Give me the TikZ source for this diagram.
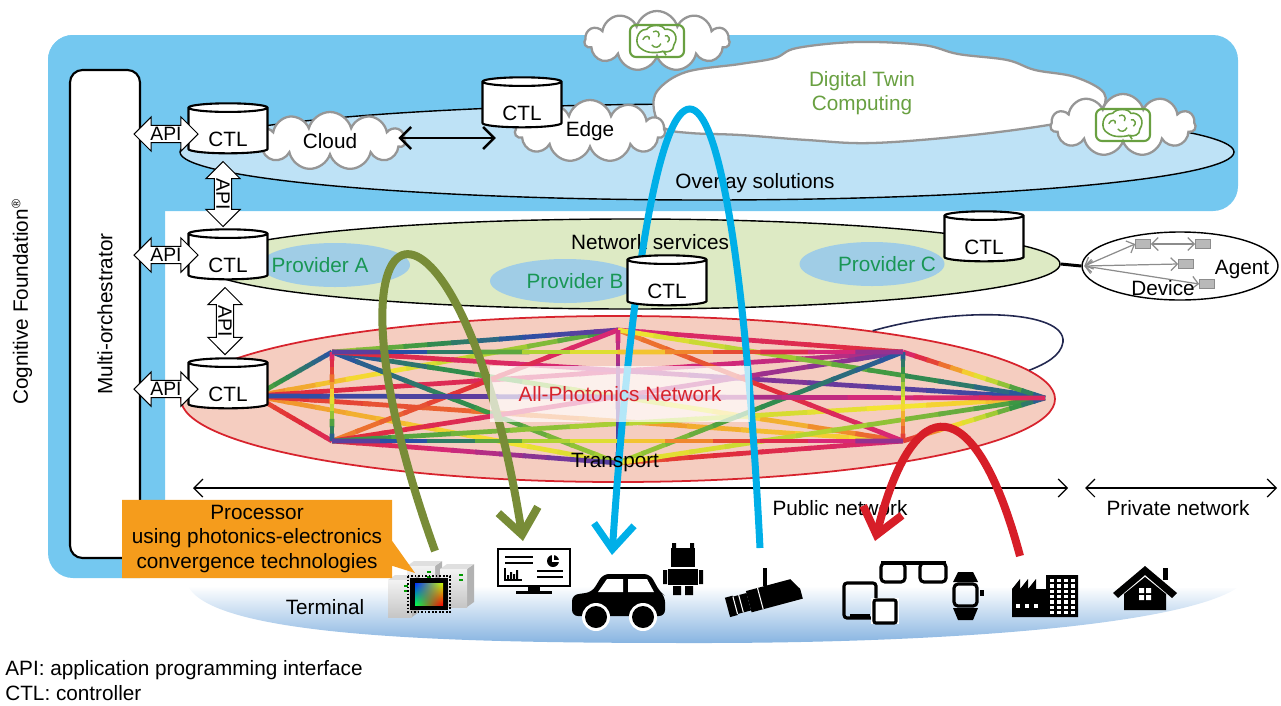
\documentclass[tikz,border=0pt]{standalone}
\usepackage{fontspec}
\setmainfont{Liberation Sans}
\usetikzlibrary{positioning, arrows.meta, calc, shapes.geometric, shapes.symbols, shapes.arrows, shapes.callouts, shadings}

\definecolor{cfblue}{RGB}{116,200,240}
\definecolor{overlayblue}{RGB}{190,226,246}
\definecolor{nsgreen}{RGB}{221,234,196}
\definecolor{provblue}{RGB}{160,205,230}
\definecolor{provtext}{RGB}{25,150,85}
\definecolor{twingreen}{RGB}{105,160,65}
\definecolor{apnfill}{RGB}{245,205,192}
\definecolor{apnred}{RGB}{215,35,45}
\definecolor{cloudgray}{RGB}{150,150,150}
\definecolor{olivearc}{RGB}{120,140,55}
\definecolor{cyanarc}{RGB}{0,175,232}
\definecolor{redarc}{RGB}{215,30,40}
\definecolor{calloutorange}{RGB}{245,156,28}
\definecolor{termblue}{RGB}{135,180,225}
\definecolor{loopnavy}{RGB}{35,40,80}
% palette for the optical links
\definecolor{pal0}{RGB}{40,80,165}
\definecolor{pal1}{RGB}{50,145,70}
\definecolor{pal2}{RGB}{175,210,50}
\definecolor{pal3}{RGB}{245,228,50}
\definecolor{pal4}{RGB}{240,135,45}
\definecolor{pal5}{RGB}{225,45,55}
\definecolor{pal6}{RGB}{215,40,120}
\definecolor{pal7}{RGB}{115,55,155}

% link from #1 to #2, colour running through the palette from #3 to #4
\newcommand\meshlink[4]{%
  \foreach \k in {0,...,11}{%
    \pgfmathsetmacro\ta{\k/12}%
    \pgfmathsetmacro\tb{min((\k+1.15)/12,1)}%
    \pgfmathsetmacro\pp{mod(#3+(#4-#3)*(\k+0.5)/12+16,8)}%
    \pgfmathtruncatemacro\ci{floor(\pp)}%
    \pgfmathtruncatemacro\cj{mod(\ci+1,8)}%
    \pgfmathtruncatemacro\cw{100*(1-\pp+\ci)}%
    \colorlet{linkcol}{pal\ci!\cw!pal\cj}%
    \draw[linkcol, line width=0.95mm] ($(#1)!\ta!(#2)$) -- ($(#1)!\tb!(#2)$);
  }}

% small brain sign inside a cloud
\newcommand\brainicon[1]{%
  \begin{scope}[shift={#1}]
    \draw[twingreen, line width=1.2pt, rounded corners=1.2mm] (-27,-16) rectangle (27,16);
    \begin{scope}[scale=1.3]
    \draw[twingreen, line width=0.9pt] (-12,6) .. controls (-18,3) and (-16,-9) .. (-8,-9)
      .. controls (-5,-13) and (4,-13) .. (6,-9) .. controls (13,-10) and (17,-3) .. (13,3)
      .. controls (13,8) and (8,9) .. (5,8) -- (7,11) (5,8) .. controls (0,9) and (-7,10) .. (-12,6);
    \draw[twingreen, line width=0.8pt] (-11,-1) .. controls (-9,-5) and (-5,-4) .. (-6,-1)
      (-3,-7) .. controls (0,-9) and (3,-6) .. (1,-3) (-4,3) .. controls (-2,6) and (2,5) .. (3,2)
      (6,-4) .. controls (9,-5) and (11,-1) .. (8,1);
    \end{scope}
  \end{scope}}

% server tower: corner x, y, width, height
\newcommand\servertower[4]{%
  \fill[gray!60] (#1+#3,#2) -- ++(7,-5) -- ++(0,#4) -- ++(-7,5) -- cycle;
  \fill[gray!25] (#1,#2) -- ++(7,-5) -- ++(#3,0) -- ++(-7,5) -- cycle;
  \shade[top color=gray!10, bottom color=gray!45] (#1,#2) rectangle ++(#3,#4);
  \fill[green!60!black] (#1+#3-8,#2+5) rectangle ++(4,2);
  \fill[green!60!black] (#1+#3-8,#2+10) rectangle ++(4,2);}

\begin{document}
\begin{tikzpicture}[x=0.2mm, y=-0.2mm, font=\fontsize{11.8}{13.7}\selectfont,
  ctl/.style={cylinder, shape border rotate=90, draw, line width=1.2pt, fill=white,
    aspect=0.22, minimum width=15.8mm, minimum height=10mm, inner sep=0pt, text height=6.3mm},
  apiarrow/.style={double arrow, draw, line width=0.6pt, fill=white,
    double arrow head extend=1.7mm, inner xsep=1pt, inner ysep=0.8pt,
    minimum height=#1, font=\fontsize{11}{12}\selectfont},
  puff/.style={cloud, cloud puffs=#1, cloud ignores aspect, draw=cloudgray,
    line width=1.3pt, fill=white},
  region/.style={ellipse, draw, inner sep=0pt},
  provider/.style={ellipse, fill=provblue, inner sep=0pt, minimum width=30mm, minimum height=8.8mm},
  devbox/.style={draw=gray!90, fill=gray!55, minimum width=3mm, minimum height=1.8mm, inner sep=0pt},
  devlink/.style={gray!90, line width=0.7pt,
    {Straight Barb[length=1.3mm,width=2.6mm]}-{Straight Barb[length=1.3mm,width=2.6mm]}},
  span/.style={line width=0.7pt,
    {Straight Barb[length=1.8mm,width=3.6mm]}-{Straight Barb[length=1.8mm,width=3.6mm]}},
  arc/.style={#1, line cap=butt, -{Straight Barb[length=5mm,width=8mm]}}]

\useasboundingbox (0,0) rectangle (1281,705);

% Cognitive Foundation frame
\fill[cfblue, rounded corners=5mm] (48,35) rectangle (1238,211);
\fill[cfblue, rounded corners=5mm] (48,35) rectangle (165,578);
\node[rotate=90] (cflabel) at (22,302) {Cognitive Foundation\textsuperscript{\scriptsize ®}};

\node[draw, line width=1.2pt, fill=white, rounded corners=2.5mm,
  minimum width=14mm, minimum height=97.6mm] (orch) at (105,314) {};
\node[rotate=90] (orchlabel) at (orch) {Multi-orchestrator};

% overlay layer
\node[region, fill=overlayblue, line width=0.8pt, minimum width=210.8mm, minimum height=19.2mm] (overlay) at (707,152) {};
\node (overlaylabel) at (755,183) {Overlay solutions};

% digital twin cloud
\draw[cloudgray, fill=white, line width=1.3pt] plot[smooth cycle, tension=0.6] coordinates {
  (658,90) (686,72) (740,64) (775,58) (797,48) (857,42) (923,45) (958,54) (1007,60)
  (1035,70) (1075,77) (1104,93) (1098,112) (1060,123) (973,135) (873,143) (807,140)
  (740,135) (690,133) (664,128) (654,110)};
\node[align=center, text=twingreen] (twinlabel) at (862,93) {Digital Twin\\Computing};
\node[puff=11, minimum width=29mm, minimum height=12mm] (braintop) at (657,41) {};
\node[puff=11, minimum width=29mm, minimum height=12.4mm] (brainright) at (1123,125) {};
\brainicon{(braintop)}
\brainicon{(brainright)}

\node[puff=11, minimum width=30mm, minimum height=11.6mm] (cloud) at (330,141) {Cloud};
\node[puff=11, minimum width=30mm, minimum height=12.4mm] (edge) at (590,131) {Edge};
\draw[line width=1.4pt, {Straight Barb[length=2.2mm,width=4.4mm]}-{Straight Barb[length=2.2mm,width=4.4mm]}]
  ($(cloud.east)+(-8,-3)$) -- ($(cloud.east -| edge.west)+(-18,-3)$);

% network services layer
\node[region, fill=nsgreen, line width=0.8pt, minimum width=172mm, minimum height=18mm] (netsvc) at (630,264) {};
\node[provider] (provA) at (335,265) {};
\node[provider] (provB) at (565,281) {};
\node[provider, minimum width=29mm] (provC) at (872,264) {};
\node[text=provtext] (provAlabel) at (320,265) {Provider A};
\node[text=provtext] (provBlabel) at (575,281) {Provider B};
\node[text=provtext] (provClabel) at (887,264) {Provider C};
\node (netsvclabel) at (650,242) {Network services};

\node[region, line width=0.8pt, minimum width=39.2mm, minimum height=13.6mm] (devzone) at (1180,266) {};
\draw[line width=0.6mm] (netsvc.east) -- (devzone.west);
\node[devbox] (dev1) at (1143,244) {};
\node[devbox] (dev2) at (1203,244) {};
\node[devbox] (dev3) at (1186,264) {};
\node[devbox] (dev4) at (1207,284) {};
\draw[devlink] ([xshift=0.6mm]devzone.west) -- (dev1.west);
\draw[devlink] ([xshift=0.6mm]devzone.west) -- (dev3.west);
\draw[devlink] ([xshift=0.6mm]devzone.west) -- (dev4.west);
\draw[devlink] (dev1.east) -- (dev2.west);
\node (agentlabel) at (1242,270) {Agent};
\node (devicelabel) at (1163,288) {Device};

% all-photonics transport
\node[region, draw=apnred, fill=apnfill, line width=1pt, minimum width=174.8mm, minimum height=33.2mm] (apn) at (618,399) {};
\draw[loopnavy, line width=0.9pt] (apn.15) .. controls (960,306) and (1066,310) .. (1063,342)
  .. controls (1061,356) and (1045,364) .. (apn.4);

\coordinate (m0) at (255,396);
\coordinate (m1) at (332,352);
\coordinate (m2) at (332,441);
\coordinate (m3) at (618,330);
\coordinate (m4) at (618,463);
\coordinate (m5) at (903,352);
\coordinate (m6) at (903,441);
\coordinate (m7) at (1045,398);
\foreach \a/\b/\p/\q in {m0/m1/1.5/0, m0/m3/4/1, m0/m5/5/6.5, m0/m4/4/2.5, m0/m6/5/3, m0/m2/4.5/5.5,
    m1/m3/2/-1, m1/m4/0/2, m1/m6/0/4.5, m1/m7/5/8, m2/m3/4/6, m2/m4/5/7.5, m2/m5/5/7, m2/m7/1/3.5,
    m3/m5/6/5, m3/m6/4/6, m3/m7/3/0, m4/m5/2/0, m4/m6/4.5/6, m4/m7/3/1, m5/m7/6/0, m6/m7/5/0,
    m0/m7/8/5.5, m1/m2/6/0, m3/m4/6/8, m5/m6/0/5, m1/m5/7/15, m2/m6/7/15}
  {\meshlink{\a}{\b}{\p}{\q}}

% terminals
\shade[top color=white, middle color=termblue!45, bottom color=termblue]
  (188,586) .. controls (215,640) and (480,643) .. (700,643)
  .. controls (950,643) and (1180,625) .. (1237,588) -- cycle;
\node (terminallabel) at (325,607) {Terminal};

\coordinate (pubL) at (193,488);
\coordinate (pubR) at (1068,488);
\coordinate (privL) at (1085,488);
\coordinate (privR) at (1277,488);
\draw[span] (pubL) -- (pubR);
\draw[span] (privL) -- (privR);
\node (publabel) at (840,508) {Public network};
\node (privlabel) at (1178,508) {Private network};

% servers with the chip
\servertower{407}{566}{28}{40}
\servertower{440}{569}{27}{38}
\servertower{388}{580}{24}{37}
\fill[black] (410,578) rectangle (448,610);
\draw[black, line width=1.5pt, dash pattern=on 1pt off 1pt] (408,576) rectangle (450,612);
\shade[upper left=blue!80!cyan, upper right=yellow!80!green, lower left=green!70!cyan, lower right=red] (415,583) rectangle (443,605);

% monitor
\draw[line width=1.5pt] (498,549) rectangle (570,586);
\fill (528,586) rectangle (540,591);
\fill (516,591) rectangle (552,594);
\draw[line width=1pt] (505,557) -- (533,557) (505,563) -- (533,563) (537,571) -- (563,571) (537,577) -- (563,577);
\draw[line width=0.6pt] (505,568) -- (505,580) -- (522,580);
\fill (507,575) rectangle (509,579) (510,572) rectangle (512,579) (513,574) rectangle (515,579) (516,570) rectangle (518,579);
\fill (553,561) circle (6);
\draw[white, line width=0.7pt] (553,555) -- (553,561) -- (559,561);

% car
\fill[rounded corners=1.2mm] (572,616) -- (572,595) -- (592,592) -- (603,574) -- (650,574) -- (660,592) -- (665,596) -- (665,616) -- cycle;
\fill[white] (607,579) -- (623,579) -- (623,592) -- (598,592) -- cycle;
\fill[white] (628,579) -- (647,579) -- (654,592) -- (628,592) -- cycle;
\fill[white] (596,617) circle (14) (643,617) circle (14);
\fill (596,617) circle (11) (643,617) circle (11);

% robot
\fill (671,548) rectangle (695,567);
\fill (672,543) rectangle (676,549) (690,543) rectangle (694,549);
\fill (668,569) rectangle (698,585);
\fill (663,570) rectangle (667,584) (699,570) rectangle (703,584);
\fill (673,586) rectangle (681,595) (685,586) rectangle (693,595);

% camera
\begin{scope}[shift={(770,596)}, rotate=15]
  \fill (-22,-11) -- (24,-11) -- (31,1) -- (31,11) -- (-22,11) -- cycle;
  \fill (-36,-9) rectangle (-22,9);
  \fill (-44,-10) rectangle (-36,10);
  \draw[white, line width=0.6pt] (-36,-9) -- (-36,9) (-30,-9) -- (-30,9) (-10,-11) -- (-10,11);
\end{scope}
\draw[line width=1.8pt] (765,568) -- (765,586);

% tablet, phone, glasses, watch
\draw[line width=1.8pt, rounded corners=0.6mm] (844,583) rectangle (876,618);
\fill (850,614) rectangle (870,618);
\fill[white] (871,598) rectangle (899,624);
\draw[line width=1.8pt, rounded corners=0.4mm] (874,600) rectangle (896,623);
\draw[line width=1.8pt, rounded corners=0.8mm] (881,563) rectangle (905,582) (920,563) rectangle (946,582);
\draw[line width=1.8pt] (881,563) -- (946,563);
\fill (958,572) -- (973,572) -- (978,582) -- (953,582) -- cycle;
\draw[line width=1.8pt, rounded corners=0.8mm] (954,584) rectangle (977,606);
\fill (980,590) rectangle (984,596);
\fill (953,608) -- (978,608) -- (973,620) -- (958,620) -- cycle;

% factory
\fill (1012,617) -- (1012,589) -- (1020,579) -- (1020,589) -- (1028,579) -- (1028,589) -- (1036,579)
  -- (1036,589) -- (1046,589) -- (1046,575) -- (1078,575) -- (1078,617) -- cycle;
\foreach \c in {0,...,3}
  \foreach \r in {0,...,6}
    \fill[white] (1050+\c*7,579+\r*5.3) rectangle ++(4,3.3);
\foreach \c in {0,1,2}
  \fill[white] (1016+\c*9,604) rectangle ++(4,4);

% house
\fill (1113,593) -- (1145,566) -- (1177,593) -- (1172,598) -- (1145,575) -- (1118,598) -- cycle;
\fill (1163,568) rectangle (1168,580);
\fill (1124,594) -- (1145,577) -- (1166,594) -- (1166,610) -- (1124,610) -- cycle;
\fill[white] (1139,588) rectangle (1144,593) (1146,588) rectangle (1151,593) (1139,595) rectangle (1144,600) (1146,595) rectangle (1151,600);

% flows between terminals
\coordinate (server) at (435,551);
\coordinate (monitor) at (523,541);
\coordinate (camera) at (760,548);
\coordinate (car) at (612,555);
\coordinate (factory) at (1020,556);
\coordinate (tablet) at (875,541);
\draw[arc=olivearc, line width=1.6mm] (server) .. controls (300,175) and (460,143) .. (monitor);
\draw[arc=cyanarc, line width=1.4mm] (camera) .. controls (730,-37) and (652,-37) .. (car);
\draw[arc=redarc, line width=1.6mm] (factory) .. controls (975,388) and (913,388) .. (tablet);

\node[fill=white, fill opacity=0.7, text opacity=1, text=apnred, minimum width=52mm, minimum height=11.2mm] (apnlabel) at (620,394) {All-Photonics Network};
\node (transportlabel) at (615,463) {Transport};

% controllers and their APIs
\node[ctl] (ctla) at (228,131) {CTL};
\node[ctl] (ctlb) at (228,257) {CTL};
\node[ctl] (ctlc) at (228,386) {CTL};
\node[ctl] (ctle) at (522,105) {CTL};
\node[ctl] (ctlpb) at (667,283) {CTL};
\node[ctl] (ctlpc) at (984,239) {CTL};

\node[apiarrow=12.8mm] (api1) at (166,134) {API};
\node[apiarrow=12.8mm] (api2) at (166,255) {API};
\node[apiarrow=12.8mm] (api3) at (166,389) {API};
\node[apiarrow=13mm, rotate=-90] (api4) at (223,194) {API};
\node[apiarrow=13.4mm, rotate=-90] (api5) at (225,321) {API};

% processor callout
\coordinate (srvcorner) at (415,573);
\node[rectangle callout, fill=calloutorange, callout absolute pointer={(srvcorner)},
  callout pointer width=5mm, minimum width=54mm, minimum height=15.6mm, align=center] (proc) at (257,539)
  {Processor\\using photonics-electronics\\convergence technologies};

\node[anchor=west, inner sep=0pt] (legapi) at (5,670) {API: application programming interface};
\node[anchor=west, inner sep=0pt] (legctl) at (5,693) {CTL: controller};
\end{tikzpicture}
\end{document}
